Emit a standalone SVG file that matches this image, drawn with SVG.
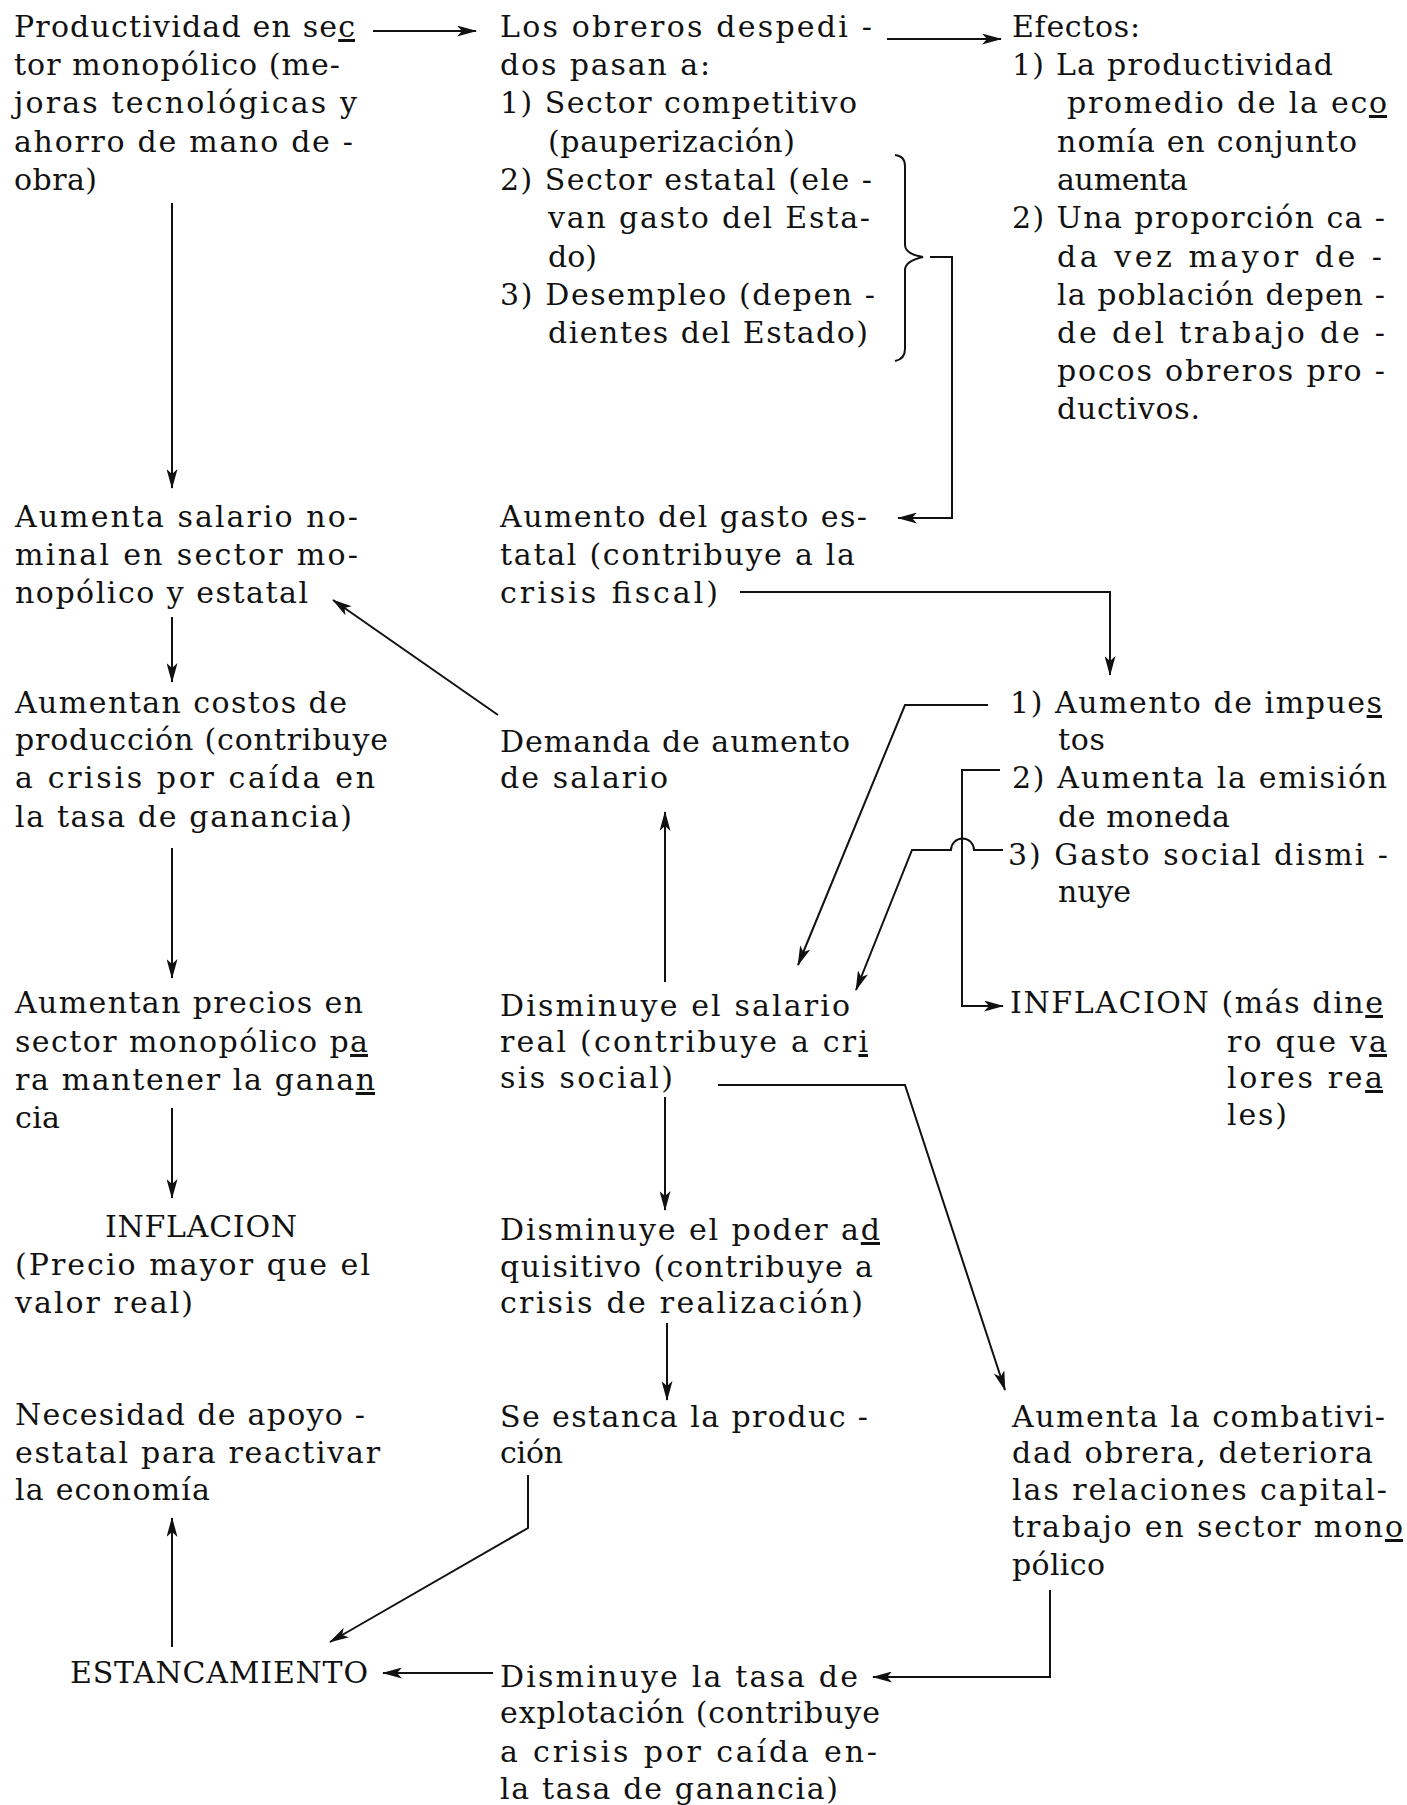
<svg xmlns="http://www.w3.org/2000/svg" width="1407" height="1805" viewBox="0 0 1407 1805">
<style>
text { font-family: "DejaVu Serif", "Liberation Serif", serif; font-size: 30px; fill: #111; }
.u { text-decoration: underline; }
.c { fill: none; stroke: #111; stroke-width: 2; }
.a { marker-end: url(#ah); }
</style>
<defs>
<marker id="ah" viewBox="0 0 20 11" refX="19" refY="5.5" markerWidth="20" markerHeight="11" markerUnits="userSpaceOnUse" orient="auto">
<path d="M0,0 L20,5.5 L0,11 L5,5.5 z" fill="#111"/>
</marker>
</defs>
<rect width="1407" height="1805" fill="#fff"/>

<g id="connectors">
<path class="c a" d="M373,31 H476"/>
<path class="c a" d="M887,39 H1001"/>
<path class="c a" d="M172,203 V488"/>
<path class="c" d="M895,155 Q905,156 905,166 V245 Q905,254 923,257 Q905,261 905,270 V349 Q905,359 895,361"/>
<path class="c a" d="M930,257 H952 V518 H898"/>
<path class="c a" d="M172,617 V682"/>
<path class="c a" d="M498,715 L333,600"/>
<path class="c a" d="M740,592 H1110 V675"/>
<path class="c a" d="M172,848 V978"/>
<path class="c a" d="M988,705 H905 L798,965"/>
<path class="c a" d="M1003,850 H974 A11.5,11.5 0 0 0 951,850 H912 L856,990"/>
<path class="c a" d="M1000,770 H962 V1006 H1003"/>
<path class="c a" d="M665,982 V812"/>
<path class="c a" d="M718,1085 H905 L1005,1390"/>
<path class="c a" d="M172,1108 V1198"/>
<path class="c a" d="M665,1097 V1210"/>
<path class="c a" d="M667,1323 V1400"/>
<path class="c a" d="M528,1475 V1528 L330,1642"/>
<path class="c a" d="M172,1647 V1518"/>
<path class="c a" d="M1050,1590 V1677 H873"/>
<path class="c a" d="M493,1673 H383"/>
</g>

<g id="n1">
<text x="14" y="37" textLength="341" lengthAdjust="spacing">Productividad en se<tspan class="u">c</tspan></text>
<text x="14" y="75" textLength="326" lengthAdjust="spacing">tor monopólico (me-</text>
<text x="14" y="113" textLength="343" lengthAdjust="spacing">joras tecnológicas y</text>
<text x="14" y="152" textLength="339" lengthAdjust="spacing">ahorro de mano de -</text>
<text x="14" y="190" textLength="83" lengthAdjust="spacing">obra)</text>
</g>

<g id="n2">
<text x="500" y="37" textLength="372" lengthAdjust="spacing">Los obreros despedi -</text>
<text x="500" y="75" textLength="210" lengthAdjust="spacing">dos pasan a:</text>
<text x="500" y="113" textLength="357" lengthAdjust="spacing">1) Sector competitivo</text>
<text x="548" y="152" textLength="247" lengthAdjust="spacing">(pauperización)</text>
<text x="500" y="190" textLength="372" lengthAdjust="spacing">2) Sector estatal (ele -</text>
<text x="548" y="228" textLength="322" lengthAdjust="spacing">van gasto del Esta-</text>
<text x="548" y="267" textLength="49" lengthAdjust="spacing">do)</text>
<text x="500" y="305" textLength="375" lengthAdjust="spacing">3) Desempleo (depen -</text>
<text x="548" y="343" textLength="320" lengthAdjust="spacing">dientes del Estado)</text>
</g>

<g id="n3">
<text x="1012" y="37" textLength="128" lengthAdjust="spacing">Efectos:</text>
<text x="1012" y="75" textLength="321" lengthAdjust="spacing">1) La productividad</text>
<text x="1067" y="113" textLength="320" lengthAdjust="spacing">promedio de la ec<tspan class="u">o</tspan></text>
<text x="1057" y="152" textLength="300" lengthAdjust="spacing">nomía en conjunto</text>
<text x="1057" y="190" textLength="131" lengthAdjust="spacing">aumenta</text>
<text x="1012" y="228" textLength="373" lengthAdjust="spacing">2) Una proporción ca -</text>
<text x="1057" y="267" textLength="325" lengthAdjust="spacing">da vez mayor de  -</text>
<text x="1057" y="305" textLength="328" lengthAdjust="spacing">la población depen -</text>
<text x="1057" y="343" textLength="328" lengthAdjust="spacing">de del trabajo de -</text>
<text x="1057" y="381" textLength="328" lengthAdjust="spacing">pocos obreros pro -</text>
<text x="1057" y="419" textLength="143" lengthAdjust="spacing">ductivos.</text>
</g>

<g id="n4">
<text x="15" y="527" textLength="343" lengthAdjust="spacing">Aumenta salario no-</text>
<text x="15" y="565" textLength="343" lengthAdjust="spacing">minal en sector mo-</text>
<text x="15" y="603" textLength="293" lengthAdjust="spacing">nopólico y estatal</text>
</g>

<g id="n5">
<text x="500" y="527" textLength="367" lengthAdjust="spacing">Aumento del gasto es-</text>
<text x="500" y="565" textLength="355" lengthAdjust="spacing">tatal (contribuye a la</text>
<text x="500" y="603" textLength="218" lengthAdjust="spacing">crisis fiscal)</text>
</g>

<g id="n6">
<text x="15" y="713" textLength="332" lengthAdjust="spacing">Aumentan costos de</text>
<text x="15" y="750" textLength="373" lengthAdjust="spacing">producción (contribuye</text>
<text x="15" y="788" textLength="360" lengthAdjust="spacing">a crisis por caída en</text>
<text x="15" y="827" textLength="337" lengthAdjust="spacing">la tasa de ganancia)</text>
</g>

<g id="n7">
<text x="500" y="752" textLength="350" lengthAdjust="spacing">Demanda de aumento</text>
<text x="500" y="788" textLength="168" lengthAdjust="spacing">de salario</text>
</g>

<g id="n8">
<text x="1010" y="713" textLength="372" lengthAdjust="spacing">1) Aumento de impue<tspan class="u">s</tspan></text>
<text x="1058" y="750" textLength="47" lengthAdjust="spacing">tos</text>
<text x="1012" y="788" textLength="375" lengthAdjust="spacing">2) Aumenta la emisión</text>
<text x="1058" y="827" textLength="172" lengthAdjust="spacing">de moneda</text>
<text x="1008" y="865" textLength="380" lengthAdjust="spacing">3) Gasto social dismi -</text>
<text x="1058" y="902" textLength="73" lengthAdjust="spacing">nuye</text>
</g>

<g id="n9">
<text x="15" y="1013" textLength="348" lengthAdjust="spacing">Aumentan precios en</text>
<text x="15" y="1052" textLength="353" lengthAdjust="spacing">sector monopólico p<tspan class="u">a</tspan></text>
<text x="15" y="1090" textLength="360" lengthAdjust="spacing">ra mantener la gana<tspan class="u">n</tspan></text>
<text x="15" y="1128" textLength="45" lengthAdjust="spacing">cia</text>
</g>

<g id="n10">
<text x="500" y="1016" textLength="350" lengthAdjust="spacing">Disminuye el salario</text>
<text x="500" y="1052" textLength="368" lengthAdjust="spacing">real (contribuye a cr<tspan class="u">i</tspan></text>
<text x="500" y="1088" textLength="173" lengthAdjust="spacing">sis social)</text>
</g>

<g id="n11">
<text x="1010" y="1013" textLength="373" lengthAdjust="spacing">INFLACION (más din<tspan class="u">e</tspan></text>
<text x="1227" y="1052" textLength="160" lengthAdjust="spacing">ro que v<tspan class="u">a</tspan></text>
<text x="1227" y="1088" textLength="156" lengthAdjust="spacing">lores re<tspan class="u">a</tspan></text>
<text x="1227" y="1125" textLength="60" lengthAdjust="spacing">les)</text>
</g>

<g id="n12">
<text x="105" y="1237" textLength="192" lengthAdjust="spacing">INFLACION</text>
<text x="15" y="1275" textLength="355" lengthAdjust="spacing">(Precio mayor que el</text>
<text x="15" y="1313" textLength="178" lengthAdjust="spacing">valor real)</text>
</g>

<g id="n13">
<text x="500" y="1240" textLength="380" lengthAdjust="spacing">Disminuye el poder a<tspan class="u">d</tspan></text>
<text x="500" y="1277" textLength="373" lengthAdjust="spacing">quisitivo (contribuye a</text>
<text x="500" y="1313" textLength="363" lengthAdjust="spacing">crisis de realización)</text>
</g>

<g id="n14">
<text x="15" y="1425" textLength="350" lengthAdjust="spacing">Necesidad de apoyo -</text>
<text x="15" y="1463" textLength="365" lengthAdjust="spacing">estatal para reactivar</text>
<text x="15" y="1500" textLength="195" lengthAdjust="spacing">la economía</text>
</g>

<g id="n15">
<text x="500" y="1427" textLength="368" lengthAdjust="spacing">Se estanca la produc -</text>
<text x="500" y="1463" textLength="63" lengthAdjust="spacing">ción</text>
</g>

<g id="n16">
<text x="1012" y="1427" textLength="373" lengthAdjust="spacing">Aumenta la combativi-</text>
<text x="1012" y="1463" textLength="361" lengthAdjust="spacing">dad obrera, deteriora</text>
<text x="1012" y="1500" textLength="375" lengthAdjust="spacing">las relaciones capital-</text>
<text x="1012" y="1537" textLength="391" lengthAdjust="spacing">trabajo en sector mon<tspan class="u">o</tspan></text>
<text x="1012" y="1575" textLength="93" lengthAdjust="spacing">pólico</text>
</g>

<g id="n17">
<text x="70" y="1683" textLength="298" lengthAdjust="spacing">ESTANCAMIENTO</text>
</g>

<g id="n18">
<text x="500" y="1687" textLength="358" lengthAdjust="spacing">Disminuye la tasa de</text>
<text x="500" y="1723" textLength="380" lengthAdjust="spacing">explotación (contribuye</text>
<text x="500" y="1762" textLength="377" lengthAdjust="spacing">a crisis por caída en-</text>
<text x="500" y="1799" textLength="338" lengthAdjust="spacing">la tasa de ganancia)</text>
</g>
</svg>
